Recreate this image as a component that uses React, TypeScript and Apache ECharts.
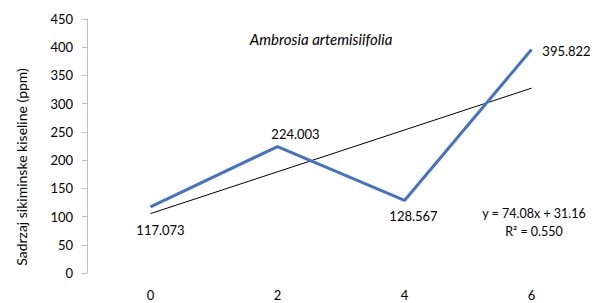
import React, { useEffect, useRef } from "react";
import * as echarts from "echarts";

const categories = ["0", "2", "4", "6"];
const values = [117.073, 224.003, 128.567, 395.822];
// Linear trend y = 74.08x + 31.16 at x = 1..4 (as shown on chart)
const trendValues = [105.24, 179.32, 253.4, 327.48];
const labelOffsets = [
  [10, 23],
  [18, -13],
  [9, 16],
  [35, 1],
];
const titleText = "Ambrosia artemisiifolia";
const yAxisName = "Sadrzaj sikiminske kiseline (ppm)";
const equationText = "y = 74.08x + 31.16";
const r2Text = "R² = 0.550";

const FONT = "Lato, 'Open Sans', sans-serif";

export default function App() {
  const ref = useRef<HTMLDivElement>(null);
  useEffect(() => {
    if (!ref.current) return;
    const chart = echarts.init(ref.current, null, { renderer: "svg" });
    chart.setOption({
      animation: false,
      backgroundColor: "#ffffff",
      textStyle: { fontFamily: FONT },
      title: {
        text: titleText,
        left: 316,
        top: 26,
        textAlign: "center",
        textStyle: { fontSize: 15, fontStyle: "italic", fontWeight: "normal", color: "#000", fontFamily: FONT },
      },
      graphic: [
        {
          type: "text",
          x: 21,
          y: 167,
          rotation: Math.PI / 2,
          style: {
            text: yAxisName,
            fill: "#000",
            font: `14px ${FONT}`,
            textAlign: "center",
            textVerticalAlign: "middle",
          },
        },
        {
          type: "text",
          x: 534,
          y: 213,
          style: {
            text: equationText,
            fill: "#000",
            font: `12.5px ${FONT}`,
            textAlign: "center",
            textVerticalAlign: "middle",
          },
        },
        {
          type: "text",
          x: 534,
          y: 231,
          style: {
            text: r2Text,
            fill: "#000",
            font: `12.5px ${FONT}`,
            textAlign: "center",
            textVerticalAlign: "middle",
          },
        },
      ],
      grid: { left: 87, top: 19, width: 512, height: 254, containLabel: false },
      xAxis: {
        type: "category",
        data: categories,
        boundaryGap: true,
        axisLine: { show: false },
        axisTick: { show: false },
        axisLabel: { margin: 15, fontSize: 13, color: "#000", fontFamily: FONT },
      },
      yAxis: {
        type: "value",
        min: 0,
        max: 450,
        interval: 50,
        axisLine: { show: true, lineStyle: { color: "#BFBFBF" } },
        axisTick: { show: true, length: 5, lineStyle: { color: "#BFBFBF" } },
        axisLabel: { margin: 14, fontSize: 13, color: "#000", fontFamily: FONT },
        splitLine: { show: false },
      },
      series: [
        {
          type: "line",
          data: trendValues,
          symbol: "none",
          lineStyle: { color: "#000", width: 1 },
          silent: true,
          z: 1,
        },
        {
          type: "line",
          data: values.map((v, i) => ({
            value: v,
            label: {
              show: true,
              position: [1 + labelOffsets[i][0], 1 + labelOffsets[i][1]],
              align: "center",
              verticalAlign: "middle",
              formatter: v.toFixed(3),
              fontSize: 13,
              color: "#000",
              fontFamily: FONT,
            },
          })),
          symbol: "circle",
          symbolSize: 2,
          showSymbol: true,
          itemStyle: { color: "rgba(0,0,0,0)", borderWidth: 0 },
          lineStyle: { color: "#4472C4", width: 3 },
          labelLayout: { hideOverlap: false },
          z: 2,
        },
      ],
    });
    return () => chart.dispose();
  }, []);
  return <div ref={ref} style={{ width: 595, height: 303, position: "fixed", left: 0, top: 0 }} />;
}
